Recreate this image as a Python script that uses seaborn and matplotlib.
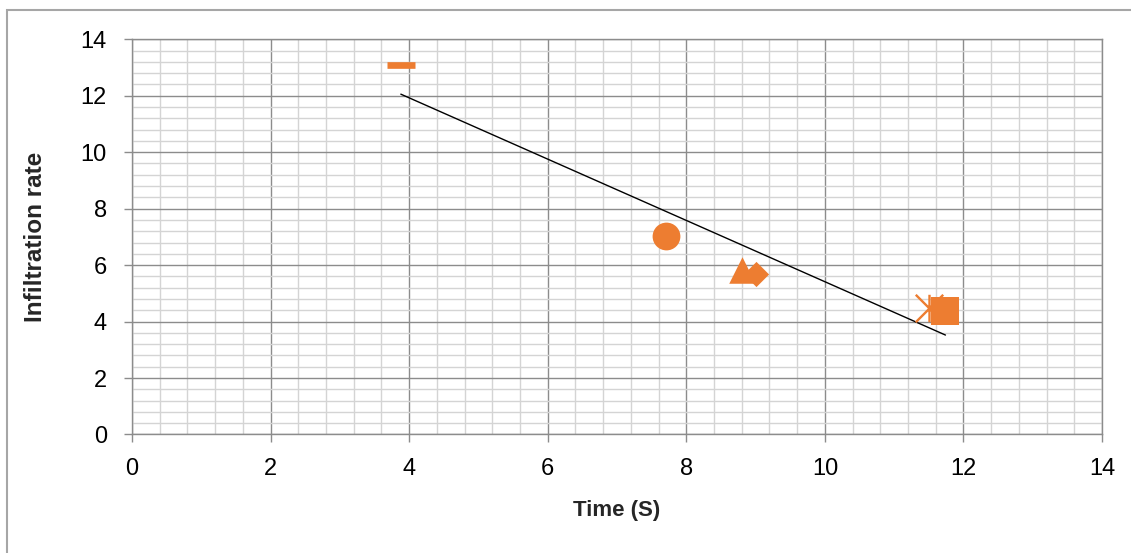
import numpy as np
import pandas as pd
import matplotlib
matplotlib.use("Agg")
import matplotlib.pyplot as plt
import matplotlib.patches as patches
from matplotlib.path import Path
from matplotlib.ticker import MultipleLocator
import seaborn as sns

# values (one point per series, Excel-style markers)
time_s = [9.0, 11.74, 8.8, 11.5, 7.71, 3.88]
infiltration = [5.68, 4.37, 5.83, 4.47, 7.02, 13.1]
series_markers = ["D", "s", "^", "star", "o", "_"]
marker_sizes = [165, 380, 365, 390, 400, 400]
marker_widths = [0, 0, 0, 1.7, 0, 4.8]

x_label = "Time (S)"
y_label = "Infiltration rate"

orange = "#ED7D31"

# Excel "star" marker: an X with a vertical bar through it
star_path = Path(
    [(-0.5, -0.5), (0.5, 0.5), (-0.5, 0.5), (0.5, -0.5), (0, -0.5), (0, 0.5)],
    [Path.MOVETO, Path.LINETO, Path.MOVETO, Path.LINETO, Path.MOVETO, Path.LINETO],
)

sns.set_style("white")
plt.rcParams["font.family"] = ["Liberation Sans", "DejaVu Sans"]

df = pd.DataFrame({"time": time_s, "rate": infiltration})

fig = plt.figure(figsize=(11.31, 5.53), dpi=100)
ax = fig.add_axes([0.1167, 0.2143, 0.8577, 0.7147])

# linear trendline over all points
sns.regplot(data=df, x="time", y="rate", scatter=False, ci=None, ax=ax,
            line_kws={"color": "black", "linewidth": 1.0})

for i in range(len(time_s)):
    m = series_markers[i]
    filled = m in ["D", "s", "^", "o"]
    if m == "star":
        m = star_path
    sns.scatterplot(x=[time_s[i]], y=[infiltration[i]], marker=m, s=marker_sizes[i],
                    color=orange, edgecolor=orange if filled else None,
                    linewidth=marker_widths[i], ax=ax, zorder=3)

ax.set_xlim(0, 14)
ax.set_ylim(0, 14)
ax.xaxis.set_major_locator(MultipleLocator(2))
ax.yaxis.set_major_locator(MultipleLocator(2))
ax.xaxis.set_minor_locator(MultipleLocator(0.4))
ax.yaxis.set_minor_locator(MultipleLocator(0.4))
ax.grid(which="minor", color="#D4D4D4", linewidth=1.0)
ax.grid(which="major", color="#8C8C8C", linewidth=1.0)
ax.set_axisbelow(True)
for sp in ax.spines.values():
    sp.set_color("#8C8C8C")
    sp.set_linewidth(1.0)

ax.tick_params(which="major", direction="out", length=6, width=1, color="#8C8C8C",
               labelsize=17, labelcolor="black", left=True, bottom=True)
ax.tick_params(axis="y", pad=12)
ax.tick_params(axis="x", pad=11)
ax.tick_params(which="minor", length=0)

ax.set_xlabel(x_label, fontsize=16, fontweight="bold", labelpad=14)
ax.set_ylabel(y_label, fontsize=17.5, fontweight="bold", labelpad=24)

# chart-area frame
fig.patches.append(patches.Rectangle((7 / 1131, -0.1), 2, 1 - 10 / 553 + 0.1, fill=False,
                                     edgecolor="#A6A6A6", linewidth=1.5,
                                     transform=fig.transFigure))

fig.savefig("out.png", dpi=100)
